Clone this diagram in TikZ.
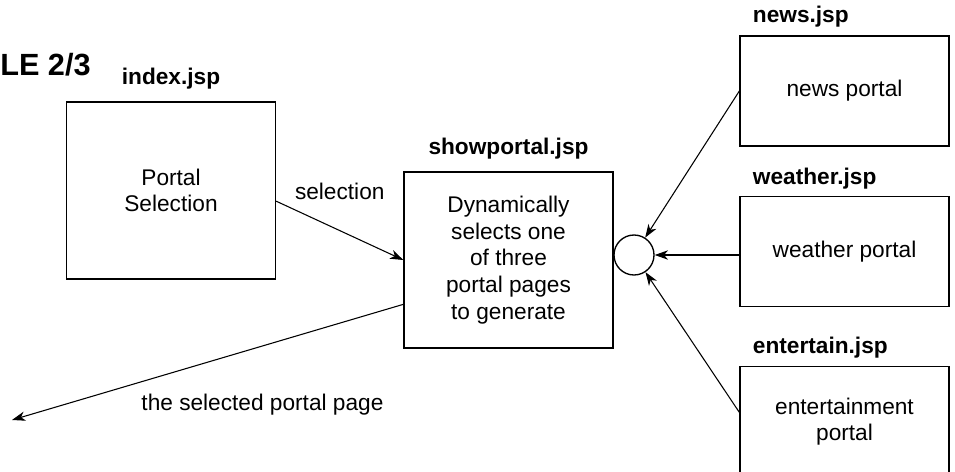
\documentclass[tikz,border=0pt]{standalone}
\usepackage{fontspec}
\setmainfont{Liberation Sans}
\usetikzlibrary{arrows.meta, positioning, calc}
\tikzset{
  pagebox/.style={rectangle, draw=black, line width=1pt, minimum width=156.75pt, minimum height=82.5pt, align=center, inner sep=2pt, font=\fontsize{17}{20}\selectfont},
  jsplabel/.style={inner sep=0pt, font=\fontsize{17}{20}\selectfont\bfseries},
  arrowlabel/.style={inner sep=0pt, font=\fontsize{17}{20}\selectfont},
  flowarrow/.style={-{Stealth[length=10pt, width=7pt, inset=3pt]}, line width=0.8pt},
  joinnode/.style={circle, draw=black, line width=1pt, minimum size=30pt, inner sep=0pt}
}

\begin{document}
\begin{tikzpicture}[x=0.75pt, y=-0.75pt]
  \useasboundingbox (0,0) rectangle (955,471);

  \node[jsplabel, anchor=west, font=\fontsize{23}{26}\selectfont\bfseries] (title) at (0,65) {LE 2/3};

  % the page boxes
  \node[pagebox, minimum height=132.75pt, font=\fontsize{17}{19}\selectfont] (index) at (171,190.5) {Portal\\Selection};
  \node[pagebox, minimum height=132pt] (show) at (508.5,260) {Dynamically\\selects one\\of three\\portal pages\\to generate};
  \node[pagebox] (news) at (844.5,91) {news portal};
  \node[pagebox, below=36.75pt of news] (weather) {weather portal};
  \node[pagebox, below=44.25pt of weather] (ent) {entertainment\\portal};
  \node[joinnode] (circ) at (634,255) {};

  % file names
  \node[jsplabel, above=9pt of index] (indexlbl) {index.jsp};
  \node[jsplabel, above=9pt of show] (showlbl) {showportal.jsp};
  \node[jsplabel, anchor=south west, above right=6pt and 10pt of news.north west] (newslbl) {news.jsp};
  \node[jsplabel, anchor=south west, above right=5pt and 10pt of weather.north west] (weatherlbl) {weather.jsp};
  \node[jsplabel, anchor=south west, above right=6pt and 10pt of ent.north west] (entlbl) {entertain.jsp};

  % connectors
  \coordinate (out) at (12,420);
  \draw[flowarrow] ([yshift=-8pt]index.east) -- (show.west)
    node[arrowlabel, midway, above=23pt] (sellbl) {selection};
  \draw[flowarrow] ($(show.west)!0.5!(show.south west)$) -- (out)
    node[arrowlabel, pos=0.36, below=36pt] (outlbl) {the selected portal page};
  \draw[flowarrow] (news.west) -- (circ);
  \draw[flowarrow] (weather.west |- circ.east) -- (circ.east);
  \draw[flowarrow] ([yshift=7pt]ent.west) -- (circ);
\end{tikzpicture}
\end{document}
